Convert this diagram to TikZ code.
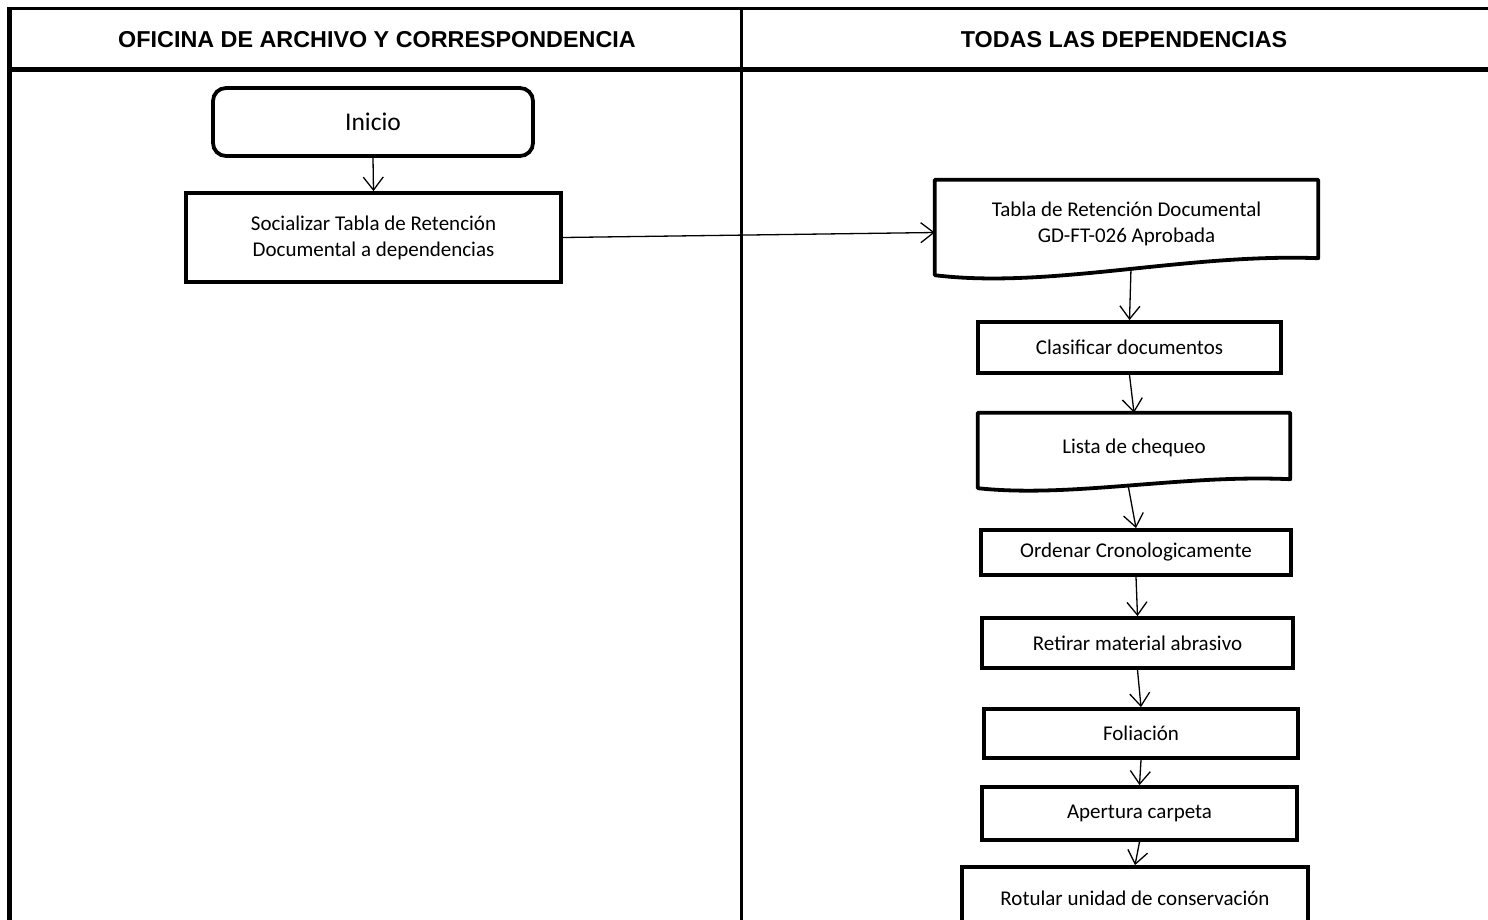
\documentclass[tikz,border=0pt]{standalone}
\usepackage{fontspec}
\setmainfont{Carlito}
\newfontfamily\hdrfont[FakeStretch=1.015]{Liberation Sans}
\usetikzlibrary{arrows.meta,calc}
\begin{document}
\begin{tikzpicture}[x=1pt,y=-1pt,
  thinframe/.style={line width=3pt},
  thickframe/.style={line width=5pt},
  hdr/.style={font=\hdrfont\bfseries\fontsize{23}{27}\selectfont, inner sep=0pt},
  procbox/.style={draw, line width=3.8pt, inner sep=0pt, align=center,
    font=\fontsize{21}{26}\selectfont},
  docbox/.style={inner sep=0pt, align=center, font=\fontsize{21}{26}\selectfont},
  docline/.style={line width=3.8pt, line join=round},
  conn/.style={line width=1.3pt, -{Straight Barb[length=13pt,width=20pt]}}
]
\useasboundingbox (0,0) rectangle (1488,919);

% frame
\draw[thinframe] (7,8.5) -- (1492,8.5);
\draw[thickframe] (7,69) -- (1492,69);
\draw[thickframe] (9.5,6.5) -- (9.5,925);
\draw[thinframe] (741,6.5) -- (741,925);

\node[hdr] (h1) at (377,40) {OFICINA DE ARCHIVO Y CORRESPONDENCIA};
\node[hdr] (h2) at (1124,40) {TODAS LAS DEPENDENCIAS};

% left lane
\node[procbox, rounded corners=13pt, minimum width=320pt, minimum height=68pt,
  font=\fontsize{25.5}{30}\selectfont] (ini) at (373,122) {Inicio};
\node[procbox, minimum width=375pt, minimum height=89pt] (soc) at (373.5,237.5)
  {Socializar Tabla de Retención\\Documental a dependencias};

% right lane
\node[docbox, minimum width=383pt, minimum height=88pt] (d1) at (1126.5,224)
  {Tabla de Retención Documental\\GD-FT-026 Aprobada};
\draw[docline] ($(d1.south west)+(0,7)$) -- (d1.north west) -- (d1.north east)
  -- ($(d1.south east)+(0,-10)$)
  .. controls ($(d1.south west)!0.65!(d1.south east)+(0,-15)$)
  and ($(d1.south west)!0.3!(d1.south east)+(0,21)$)
  .. coordinate[pos=0.47] (d1b) ($(d1.south west)+(0,7)$) -- cycle;

\node[procbox, minimum width=303pt, minimum height=51pt] (cla) at (1129.5,347.5)
  {Clasificar documentos};

\node[docbox, minimum width=312pt, minimum height=69pt] (lis) at (1134,447.5)
  {Lista de chequeo};
\draw[docline] ($(lis.south west)+(0,6)$) -- (lis.north west) -- (lis.north east)
  -- ($(lis.south east)+(0,-3)$)
  .. controls ($(lis.south west)!0.65!(lis.south east)+(0,-8)$)
  and ($(lis.south west)!0.3!(lis.south east)+(0,16)$)
  .. coordinate[pos=0.5] (lisb) ($(lis.south west)+(0,6)$) -- cycle;

\node[procbox, minimum width=310pt, minimum height=45pt] (ord) at (1136,552.5)
  {Ordenar Cronologicamente};
\node[procbox, minimum width=311pt, minimum height=50pt] (ret) at (1137.5,643)
  {Retirar material abrasivo};
\node[procbox, minimum width=314pt, minimum height=49pt] (fol) at (1141,733.5)
  {Foliación};
\node[procbox, minimum width=315pt, minimum height=53pt] (ape) at (1139.5,813.5)
  {Apertura carpeta};
\node[procbox, minimum width=346pt, minimum height=62pt] (rot) at (1135,898)
  {Rotular unidad de conservación};

% connectors
\draw[conn] (ini.south) -- (soc.north);
\draw[conn] (soc.east) -- ($(d1.west)+(0,8.5)$);
\draw[conn] (d1b) -- (cla.north);
\draw[conn] (cla.south) -- (lis.north);
\draw[conn] (lisb) -- (ord.north);
\draw[conn] (ord.south) -- (ret.north);
\draw[conn] (ret.south) -- (fol.north);
\draw[conn] (fol.south) -- (ape.north);
\draw[conn] (ape.south) -- (rot.north);
\end{tikzpicture}
\end{document}
